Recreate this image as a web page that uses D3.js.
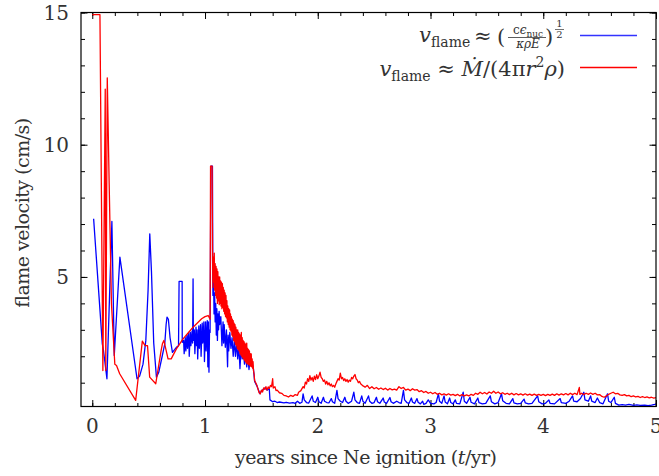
<!DOCTYPE html>
<html>
<head>
<meta charset="utf-8">
<script src="https://cdn.jsdelivr.net/npm/d3@7"></script>
<style>
  body { margin: 0; background: #fff; }
  svg text { font-family: "DejaVu Serif", serif; fill: #333; }
  .series { fill: none; stroke-width: 1.3; stroke-linejoin: round; }
  .axis path { display: none; }
  .axis line { stroke: #000; }
</style>
</head>
<body>
<div id="chart"></div>
<script>
// tick values
const xTicks = [0, 1, 2, 3, 4, 5];
const yTicks = [5, 10, 15];
const xMinor = d3.range(0, 5.01, 0.2);
const yMinor = d3.range(1, 15.01, 1);

// v_flame from (c eps_nuc / kappa rho E)^(1/2)  [t (yr), v (cm/s)]
const diffusive = [
  [0.012, 7.2], [0.089, 2.47], [0.1, 2.2], [0.13, 1.15], [0.174, 7.1], [0.195, 2.03],
  [0.245, 5.75], [0.397, 1.15], [0.42, 1.25], [0.45, 1.7], [0.475, 2.6], [0.495, 4.5],
  [0.51, 6.63], [0.525, 5.2], [0.545, 2.5], [0.569, 1.21], [0.59, 1.4], [0.62, 2.0],
  [0.643, 2.47], [0.655, 3.2], [0.663, 3.48], [0.675, 3.4], [0.69, 2.7], [0.711, 2.15],
  [0.73, 2.25], [0.746, 2.34], [0.765, 2.4], [0.77, 4.83], [0.797, 4.83], [0.798, 2.53],
  [0.81, 2.6], [0.815, 2.1], [0.825, 2.7], [0.83, 2.2], [0.84, 2.8], [0.845, 2.3],
  [0.855, 2.9], [0.86, 2.0], [0.87, 2.9], [0.875, 2.4], [0.885, 2.95], [0.89, 2.5],
  [0.894, 4.93], [0.897, 2.6], [0.905, 3.0], [0.91, 2.1], [0.92, 3.1], [0.925, 2.4],
  [0.93, 3.0], [0.935, 1.9], [0.945, 3.15], [0.95, 2.3], [0.96, 3.2], [0.965, 2.0],
  [0.975, 3.25], [0.98, 2.5], [0.99, 3.3], [0.995, 1.8], [1.005, 3.3], [1.01, 2.2],
  [1.02, 3.35], [1.025, 1.6], [1.03, 3.3], [1.035, 1.4], [1.04, 3.0], [1.045, 2.9],
  [1.052, 9.19], [1.066, 9.19], [1.07, 4.3], [1.075, 5.12], [1.08, 3.6], [1.085, 4.4],
  [1.09, 3.3], [1.095, 4.0], [1.1, 2.8], [1.105, 3.8], [1.11, 2.6], [1.115, 3.6],
  [1.12, 3.0], [1.125, 3.7], [1.13, 3.2], [1.14, 3.5], [1.15, 2.4], [1.16, 3.3],
  [1.165, 2.5], [1.17, 3.2], [1.18, 2.34], [1.19, 3.0], [1.2, 1.6], [1.205, 2.8],
  [1.21, 2.2], [1.22, 2.9], [1.23, 2.3], [1.24, 2.7], [1.25, 2.0], [1.26, 2.6],
  [1.27, 2.0], [1.28, 2.5], [1.29, 1.9], [1.3, 2.4], [1.31, 1.53], [1.32, 2.3],
  [1.33, 1.9], [1.34, 2.2], [1.35, 1.7], [1.36, 2.1], [1.37, 1.6], [1.38, 2.0],
  [1.39, 1.5], [1.4, 1.9], [1.41, 1.7], [1.42, 1.7], [1.43, 1.5], [1.44, 1.05],
  [1.46, 0.88], [1.487, 0.58], [1.5, 0.68], [1.53, 0.8], [1.55, 0.72], [1.57, 0.78],
  [1.576, 0.35], [1.6, 0.28], [1.62, 0.3], [1.64, 0.25], [1.66, 0.27], [1.7, 0.24],
  [1.72, 0.26], [1.75, 0.23], [1.78, 0.25], [1.8, 0.22], [1.82, 0.3], [1.84, 0.22],
  [1.86, 0.26], [1.87, 0.58], [1.88, 0.35], [1.9, 0.25], [1.92, 0.23], [1.95, 0.5],
  [1.96, 0.3], [1.98, 0.25], [2.0, 0.45], [2.01, 0.28], [2.03, 0.22], [2.05, 0.45],
  [2.06, 0.3], [2.08, 0.25], [2.1, 0.24], [2.12, 0.4], [2.13, 0.28], [2.15, 0.22],
  [2.17, 0.71], [2.18, 0.4], [2.2, 0.3], [2.22, 0.25], [2.24, 0.45], [2.25, 0.3],
  [2.27, 0.22], [2.3, 0.3], [2.32, 0.64], [2.33, 0.35], [2.35, 0.25], [2.37, 0.22],
  [2.39, 0.5], [2.4, 0.3], [2.42, 0.22], [2.45, 0.5], [2.46, 0.3], [2.48, 0.22],
  [2.5, 0.25], [2.52, 0.45], [2.53, 0.28], [2.55, 0.22], [2.58, 0.42], [2.59, 0.27],
  [2.61, 0.22], [2.64, 0.44], [2.65, 0.28], [2.67, 0.22], [2.7, 0.3], [2.72, 0.25],
  [2.74, 0.22], [2.76, 0.71], [2.77, 0.35], [2.79, 0.25], [2.81, 0.22], [2.83, 0.42],
  [2.84, 0.27], [2.86, 0.22], [2.88, 0.4], [2.89, 0.26], [2.91, 0.2], [2.93, 0.3],
  [2.94, 0.18], [2.96, 0.22], [2.98, 0.35], [3.0, 0.22], [3.03, 0.2], [3.05, 0.25],
  [3.07, 0.58], [3.08, 0.3], [3.1, 0.22], [3.12, 0.5], [3.13, 0.27], [3.15, 0.2],
  [3.17, 0.42], [3.18, 0.25], [3.2, 0.2], [3.22, 0.35], [3.23, 0.22], [3.26, 0.2],
  [3.29, 0.64], [3.3, 0.3], [3.32, 0.22], [3.35, 0.45], [3.36, 0.26], [3.39, 0.2],
  [3.42, 0.42], [3.43, 0.25], [3.46, 0.2], [3.49, 0.22], [3.53, 0.5], [3.54, 0.28],
  [3.57, 0.2], [3.6, 0.25], [3.63, 0.58], [3.64, 0.32], [3.67, 0.22], [3.7, 0.2],
  [3.73, 0.4], [3.74, 0.24], [3.77, 0.2], [3.8, 0.22], [3.83, 0.38], [3.84, 0.24],
  [3.87, 0.2], [3.9, 0.22], [3.95, 0.5], [3.96, 0.28], [3.99, 0.2], [4.02, 0.22],
  [4.05, 0.35], [4.06, 0.22], [4.1, 0.2], [4.15, 0.4], [4.16, 0.25], [4.2, 0.22],
  [4.23, 0.3], [4.26, 0.5], [4.27, 0.3], [4.3, 0.28], [4.33, 0.4], [4.36, 0.64],
  [4.37, 0.35], [4.4, 0.3], [4.42, 0.5], [4.43, 0.3], [4.46, 0.25], [4.48, 0.42],
  [4.5, 0.25], [4.53, 0.2], [4.57, 0.58], [4.58, 0.3], [4.6, 0.25], [4.63, 0.45],
  [4.64, 0.22], [4.67, 0.15], [4.7, 0.17], [4.73, 0.15], [4.76, 0.18], [4.8, 0.14],
  [4.83, 0.16], [4.86, 0.14], [4.9, 0.15], [4.93, 0.13], [4.96, 0.15], [4.99, 0.18],
  [5.0, 0.2]
];

// v_flame from Mdot / (4 pi r^2 rho)  [t (yr), v (cm/s)]
const massFlux = [
  [0.0, 14.92], [0.068, 14.92], [0.094, 1.46], [0.115, 12.1], [0.12, 1.46], [0.133, 12.53],
  [0.15, 8.5], [0.17, 4.0], [0.2, 1.7], [0.215, 1.65], [0.243, 1.34], [0.385, 0.33],
  [0.444, 2.57], [0.468, 2.4], [0.49, 2.4], [0.509, 1.21], [0.563, 0.96], [0.61, 2.2],
  [0.622, 2.47], [0.635, 2.6], [0.672, 1.9], [0.7, 1.9], [0.746, 2.28], [0.805, 2.66],
  [0.85, 2.88], [0.894, 3.1], [0.93, 3.25], [0.97, 3.42], [1.0, 3.5], [1.028, 3.54],
  [1.045, 3.4], [1.049, 9.19], [1.063, 9.19], [1.067, 5.62], [1.07, 4.6], [1.074, 5.75],
  [1.078, 4.8], [1.082, 5.9], [1.086, 4.5], [1.09, 5.5], [1.094, 4.3], [1.098, 5.4],
  [1.102, 4.2], [1.106, 5.3], [1.11, 4.0], [1.114, 5.2], [1.118, 4.1], [1.122, 5.0],
  [1.126, 3.95], [1.13, 5.0], [1.134, 4.0], [1.138, 4.85], [1.142, 3.9], [1.146, 4.8],
  [1.15, 3.8], [1.154, 4.75], [1.158, 3.85], [1.162, 4.6], [1.166, 3.7], [1.17, 4.5],
  [1.174, 3.6], [1.178, 4.4], [1.182, 3.5], [1.186, 4.3], [1.19, 3.45], [1.194, 4.1],
  [1.198, 3.3], [1.202, 3.9], [1.206, 3.2], [1.21, 3.8], [1.214, 3.1], [1.218, 3.75],
  [1.222, 3.0], [1.226, 3.6], [1.23, 2.95], [1.234, 3.5], [1.238, 2.8], [1.242, 3.4],
  [1.246, 2.75], [1.25, 3.35], [1.254, 2.6], [1.258, 3.25], [1.262, 2.55], [1.266, 3.2],
  [1.27, 2.45], [1.274, 3.1], [1.278, 2.4], [1.282, 3.0], [1.286, 2.3], [1.29, 3.0],
  [1.294, 2.25], [1.298, 2.9], [1.302, 2.2], [1.306, 2.85], [1.31, 2.1], [1.314, 2.8],
  [1.318, 2.05], [1.322, 2.9], [1.326, 2.0], [1.33, 2.7], [1.334, 1.95], [1.338, 2.6],
  [1.342, 1.9], [1.346, 2.55], [1.35, 1.85], [1.354, 2.5], [1.358, 1.8], [1.362, 2.45],
  [1.366, 1.75], [1.37, 2.5], [1.374, 1.72], [1.378, 2.3], [1.382, 1.7], [1.386, 2.25],
  [1.39, 1.68], [1.394, 2.2], [1.398, 1.65], [1.402, 2.1], [1.406, 1.62], [1.41, 2.09],
  [1.414, 1.6], [1.418, 1.9], [1.422, 1.55], [1.426, 1.8], [1.43, 1.46], [1.436, 1.3],
  [1.44, 1.08], [1.46, 0.9], [1.48, 0.62], [1.49, 0.58], [1.5, 0.72], [1.51, 0.65],
  [1.52, 0.8], [1.53, 0.75], [1.54, 0.85], [1.55, 0.72], [1.56, 0.84], [1.57, 0.78],
  [1.58, 0.9], [1.59, 0.85], [1.6, 1.15], [1.605, 0.8], [1.62, 0.85], [1.63, 0.7],
  [1.64, 0.72], [1.66, 0.62], [1.68, 0.6], [1.7, 0.52], [1.72, 0.5], [1.74, 0.46],
  [1.76, 0.52], [1.78, 0.48], [1.8, 0.55], [1.82, 0.52], [1.83, 0.64], [1.85, 0.7],
  [1.87, 0.85], [1.88, 0.8], [1.89, 1.02], [1.9, 0.95], [1.91, 1.15], [1.92, 1.05],
  [1.93, 1.27], [1.94, 1.1], [1.95, 1.2], [1.96, 1.05], [1.97, 1.25], [1.98, 1.12],
  [1.99, 1.3], [2.0, 1.15], [2.01, 1.25], [2.02, 1.4], [2.03, 1.2], [2.04, 1.15],
  [2.05, 1.05], [2.06, 1.1], [2.07, 0.95], [2.08, 1.05], [2.09, 0.92], [2.1, 1.0],
  [2.11, 0.88], [2.12, 0.95], [2.13, 0.85], [2.14, 0.9], [2.15, 0.83], [2.16, 0.95],
  [2.17, 1.05], [2.18, 1.15], [2.19, 1.1], [2.2, 1.36], [2.21, 1.15], [2.22, 1.2],
  [2.23, 1.08], [2.24, 1.15], [2.25, 1.05], [2.26, 1.12], [2.27, 1.02], [2.28, 1.1],
  [2.29, 1.05], [2.3, 1.2], [2.31, 1.15], [2.32, 1.25], [2.33, 1.31], [2.34, 1.15],
  [2.35, 1.1], [2.36, 1.0], [2.37, 1.05], [2.38, 0.96], [2.39, 0.92], [2.4, 0.88],
  [2.41, 0.86], [2.42, 0.83], [2.44, 0.9], [2.46, 0.78], [2.48, 0.85], [2.5, 0.77],
  [2.52, 0.82], [2.54, 0.75], [2.56, 0.8], [2.58, 0.74], [2.6, 0.79], [2.62, 0.72],
  [2.64, 0.78], [2.66, 0.73], [2.68, 0.76], [2.7, 0.72], [2.72, 0.85], [2.74, 0.78],
  [2.76, 0.82], [2.78, 0.72], [2.8, 0.76], [2.82, 0.7], [2.84, 0.77], [2.86, 0.72],
  [2.88, 0.74], [2.9, 0.66], [2.92, 0.7], [2.94, 0.63], [2.96, 0.67], [2.98, 0.6],
  [3.0, 0.64], [3.02, 0.58], [3.04, 0.63], [3.06, 0.56], [3.08, 0.6], [3.1, 0.54],
  [3.12, 0.58], [3.14, 0.53], [3.16, 0.58], [3.18, 0.53], [3.2, 0.56], [3.22, 0.51],
  [3.24, 0.56], [3.26, 0.5], [3.28, 0.55], [3.3, 0.5], [3.32, 0.54], [3.34, 0.5],
  [3.36, 0.56], [3.38, 0.52], [3.4, 0.6], [3.42, 0.56], [3.44, 0.64], [3.46, 0.58],
  [3.48, 0.63], [3.5, 0.57], [3.52, 0.65], [3.54, 0.6], [3.56, 0.68], [3.58, 0.6],
  [3.6, 0.65], [3.62, 0.58], [3.64, 0.62], [3.66, 0.56], [3.68, 0.6], [3.7, 0.55],
  [3.72, 0.6], [3.74, 0.54], [3.76, 0.59], [3.78, 0.54], [3.8, 0.58], [3.82, 0.53],
  [3.84, 0.58], [3.86, 0.53], [3.88, 0.57], [3.9, 0.52], [3.92, 0.57], [3.94, 0.52],
  [3.96, 0.56], [3.98, 0.52], [4.0, 0.56], [4.02, 0.51], [4.04, 0.56], [4.06, 0.52],
  [4.08, 0.57], [4.1, 0.52], [4.12, 0.58], [4.14, 0.53], [4.16, 0.58], [4.18, 0.54],
  [4.2, 0.59], [4.22, 0.54], [4.24, 0.6], [4.26, 0.55], [4.28, 0.6], [4.3, 0.55],
  [4.32, 0.82], [4.325, 0.56], [4.34, 0.6], [4.36, 0.55], [4.38, 0.6], [4.4, 0.56],
  [4.42, 0.61], [4.44, 0.56], [4.46, 0.6], [4.48, 0.54], [4.5, 0.55], [4.52, 0.48],
  [4.54, 0.45], [4.56, 0.5], [4.58, 0.56], [4.6, 0.6], [4.62, 0.64], [4.64, 0.58],
  [4.66, 0.6], [4.68, 0.54], [4.7, 0.52], [4.72, 0.55], [4.74, 0.5], [4.76, 0.52],
  [4.78, 0.47], [4.8, 0.5], [4.82, 0.46], [4.84, 0.48], [4.86, 0.44], [4.88, 0.47],
  [4.9, 0.44], [4.92, 0.46], [4.94, 0.43], [4.96, 0.45], [4.98, 0.42], [5.0, 0.44]
];

//size
const width = 659;
const height = 476;
const margin = { top: 12.5, right: 3, bottom: 69.5, left: 81 };
const innerWidth = width - margin.left - margin.right;
const innerHeight = height - margin.top - margin.bottom;

//scale
const xScale = d3.scaleLinear().domain([-0.1, 5]).range([0, innerWidth]);
const yScale = d3.scaleLinear().domain([0.1, 15]).range([innerHeight, 0]);

const svg = d3
  .select("#chart")
  .append("svg")
  .attr("width", width)
  .attr("height", height);

const g = svg.append("g").attr("transform", `translate(${margin.left},${margin.top})`);

svg
  .append("defs")
  .append("clipPath")
  .attr("id", "plot-clip")
  .append("rect")
  .attr("width", innerWidth)
  .attr("height", innerHeight);

//ticks, pointing inward on all four sides
function ticks(axis, values, size) {
  return axis.tickValues(values).tickSize(-size).tickFormat("");
}
g.append("g").attr("class", "axis").attr("transform", `translate(0,${innerHeight})`)
  .call(ticks(d3.axisBottom(xScale), xMinor, 3.5));
g.append("g").attr("class", "axis").attr("transform", `translate(0,${innerHeight})`)
  .call(ticks(d3.axisBottom(xScale), xTicks, 6.5));
g.append("g").attr("class", "axis").call(ticks(d3.axisTop(xScale), xMinor, 3.5));
g.append("g").attr("class", "axis").call(ticks(d3.axisTop(xScale), xTicks, 6.5));
g.append("g").attr("class", "axis").call(ticks(d3.axisLeft(yScale), yMinor, 4));
g.append("g").attr("class", "axis").call(ticks(d3.axisLeft(yScale), yTicks, 6.5));
g.append("g").attr("class", "axis").attr("transform", `translate(${innerWidth},0)`)
  .call(ticks(d3.axisRight(yScale), yMinor, 4));
g.append("g").attr("class", "axis").attr("transform", `translate(${innerWidth},0)`)
  .call(ticks(d3.axisRight(yScale), yTicks, 6.5));

//tick labels
g.selectAll("text.xlab")
  .data(xTicks)
  .join("text")
  .attr("class", "xlab")
  .attr("x", (d) => xScale(d))
  .attr("y", innerHeight + 26.5)
  .attr("text-anchor", "middle")
  .style("font-size", "20px")
  .text((d) => d);

g.selectAll("text.ylab")
  .data(yTicks)
  .join("text")
  .attr("class", "ylab")
  .attr("x", -12)
  .attr("y", (d) => yScale(d) + 7.5)
  .attr("text-anchor", "end")
  .style("font-size", "20px")
  .text((d) => d);

//series
const line = d3.line().x((d) => xScale(d[0])).y((d) => yScale(d[1]));
const plot = g.append("g").attr("clip-path", "url(#plot-clip)");
plot.append("path").datum(diffusive).attr("class", "series").style("stroke", "#0000ff").attr("d", line);
plot.append("path").datum(massFlux).attr("class", "series").style("stroke", "#ff0000").attr("d", line);

//frame
g.append("rect")
  .attr("width", innerWidth)
  .attr("height", innerHeight)
  .attr("fill", "none")
  .attr("stroke", "#000")
  .attr("stroke-width", 1.2);

//axis titles
svg.append("text")
  .attr("x", 366)
  .attr("y", 464)
  .attr("text-anchor", "middle")
  .attr("textLength", 262)
  .style("font-size", "19px")
  .html('years since Ne ignition (<tspan font-style="italic">t</tspan>/yr)');

svg.append("text")
  .attr("transform", "translate(29,213) rotate(-90)")
  .attr("text-anchor", "middle")
  .attr("textLength", 190)
  .style("font-size", "19px")
  .text("flame velocity (cm/s)");

//legend
const legend = svg.append("g");
const L1 = legend.append("text").style("font-size", "21px");
L1.append("tspan").attr("x", 419).attr("y", 42).style("font-style", "italic").text("v");
L1.append("tspan").attr("x", 431).attr("y", 47).style("font-size", "14px").text("flame");
L1.append("tspan").attr("x", 474).attr("y", 43).text("≈");
L1.append("tspan").attr("x", 497).attr("y", 44).text("(");
L1.append("tspan").attr("x", 545).attr("y", 44).text(")");
legend.append("text").attr("x", 528).attr("y", 34).attr("text-anchor", "middle").style("font-size", "12px")
  .html('c<tspan font-style="italic">ϵ</tspan><tspan dy="3" font-size="9px">nuc</tspan>');
legend.append("line").attr("x1", 508).attr("x2", 546).attr("y1", 37.5).attr("y2", 37.5).style("stroke", "#333").attr("stroke-width", 0.8);
legend.append("text").attr("x", 528).attr("y", 48).attr("text-anchor", "middle").style("font-size", "12px").style("font-style", "italic").text("κρE");
legend.append("text").attr("x", 559.5).attr("y", 27).attr("text-anchor", "middle").style("font-size", "10px").text("1");
legend.append("line").attr("x1", 555).attr("x2", 564).attr("y1", 29.5).attr("y2", 29.5).style("stroke", "#333").attr("stroke-width", 0.7);
legend.append("text").attr("x", 559.5).attr("y", 38).attr("text-anchor", "middle").style("font-size", "10px").text("2");

const L2 = legend.append("text").attr("x", 565).attr("y", 76).attr("text-anchor", "end").style("font-size", "21px");
L2.append("tspan").style("font-style", "italic").text("v");
L2.append("tspan").attr("dy", 5).style("font-size", "14px").text("flame");
L2.append("tspan").attr("dy", -5).text(" ≈ ");
L2.append("tspan").style("font-style", "italic").text("M\u0307");
L2.append("tspan").text("/(4π");
L2.append("tspan").style("font-style", "italic").text("r");
L2.append("tspan").attr("dy", -9).style("font-size", "14px").text("2");
L2.append("tspan").attr("dy", 9).style("font-style", "italic").text("ρ");
L2.append("tspan").text(")");

legend.append("line").attr("x1", 580).attr("x2", 637).attr("y1", 35.5).attr("y2", 35.5).style("stroke", "#3333ff").style("stroke-width", 1.4);
legend.append("line").attr("x1", 580).attr("x2", 637).attr("y1", 67.5).attr("y2", 67.5).style("stroke", "#ff0000").style("stroke-width", 1.4);
</script>
</body>
</html>
